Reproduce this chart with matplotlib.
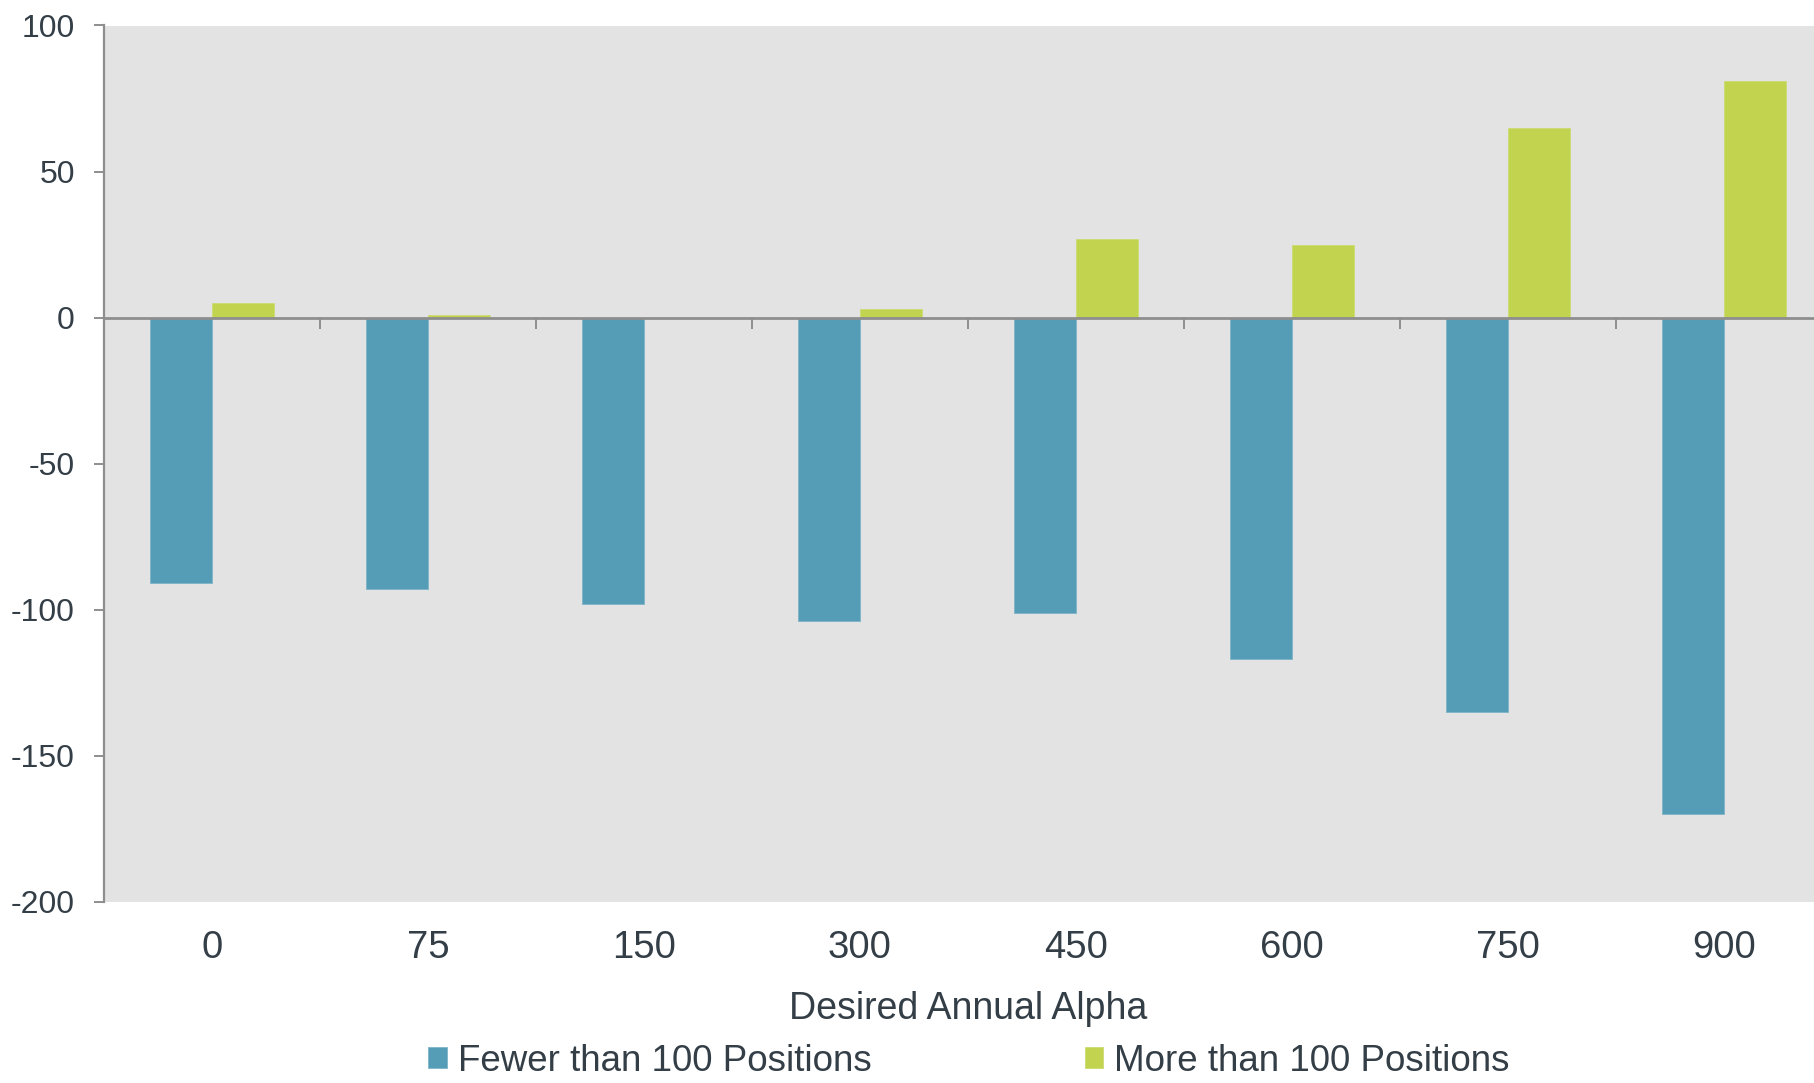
import matplotlib
matplotlib.use("Agg")
import matplotlib.pyplot as plt
import numpy as np

# Data
categories = ["0", "75", "150", "300", "450", "600", "750", "900"]
fewer_than_100 = [-91, -93, -98, -104, -101, -117, -135, -170]
more_than_100 = [5, 1, 0, 3, 27, 25, 65, 81]
series_names = ["Fewer than 100 Positions", "More than 100 Positions"]
y_ticks = [-200, -150, -100, -50, 0, 50, 100]

BLUE = "#559DB6"
GREEN = "#C2D34F"
BG = "#E3E3E3"
AXIS = "#8E8E8E"
TEXT = "#333E47"

plt.rcParams["font.family"] = ["Liberation Sans", "DejaVu Sans"]

W, H = 1815, 1083
fig = plt.figure(figsize=(W / 100, H / 100), dpi=100)
left, right, top, bottom = 104, 1832, 25.5, 901.7
ax = fig.add_axes([left / W, 1 - bottom / H, (right - left) / W, (bottom - top) / H])
ax.set_facecolor(BG)

x = np.arange(len(categories))
bw = 0.285
ax.bar(x - bw / 2, fewer_than_100, width=bw, color=BLUE, edgecolor="#7DB4C7",
       linewidth=0.6, label=series_names[0], zorder=2)
ax.bar(x + bw / 2, more_than_100, width=bw, color=GREEN, edgecolor="#CCDA73",
       linewidth=0.6, label=series_names[1], zorder=2)

ax.set_xlim(-0.5, len(categories) - 0.5)
ax.set_ylim(-200, 100)

# Spines
for s in ["top", "right"]:
    ax.spines[s].set_visible(False)
ax.spines["left"].set_color(AXIS)
ax.spines["left"].set_linewidth(1.6)
ax.spines["bottom"].set_position(("data", 0))
ax.spines["bottom"].set_color(AXIS)
ax.spines["bottom"].set_linewidth(2.0)
ax.spines["bottom"].set_zorder(3)

# Y ticks
ax.set_yticks(y_ticks)
ax.set_yticklabels([str(v) for v in y_ticks])
ax.tick_params(axis="y", direction="out", length=7, width=1.4, color=AXIS,
               labelsize=23, labelcolor=TEXT, pad=14)

# Category boundary ticks on the zero line
ax.set_xticks(np.arange(0.5, len(categories) - 0.5, 1.0))
ax.set_xticklabels([])
ax.tick_params(axis="x", direction="out", length=8, width=1.4, color=AXIS)

# Category labels below the plot area
sec = ax.secondary_xaxis(0.0)
sec.set_xticks(x)
sec.set_xticklabels(categories)
sec.tick_params(axis="x", length=0, labelsize=27.5, labelcolor=TEXT, pad=20.5)
sec.spines["bottom"].set_visible(False)

fig.text((left + right) / 2 / W, 1 - 1009 / H, "Desired Annual Alpha",
         ha="center", va="center", fontsize=27, color=TEXT)

leg = fig.legend(loc="center", bbox_to_anchor=(969 / W, 1 - 1061.5 / H), ncol=2,
                 frameon=False, fontsize=26.5, handlelength=0.5, handleheight=0.5,
                 handletextpad=0.3, columnspacing=5.8, borderaxespad=0,
                 borderpad=0)
for t in leg.get_texts():
    t.set_color(TEXT)

fig.savefig("out.png", dpi=100, facecolor="white")
